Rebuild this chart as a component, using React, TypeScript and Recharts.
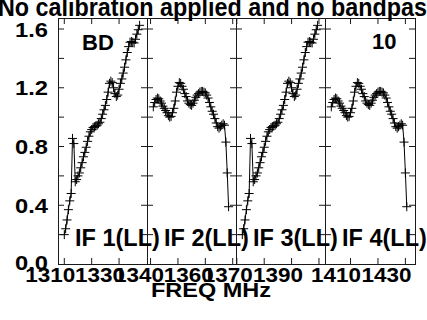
import React from 'react';
import { LineChart, Line, XAxis, YAxis } from 'recharts';

// ---------- data ----------
const titleText = 'No calibration applied and no bandpass';
const xAxisTitle = 'FREQ MHz';
const sourceName = 'BD';
const plotNumber = '10';
const ifLabels = ['IF 1(LL)', 'IF 2(LL)', 'IF 3(LL)', 'IF 4(LL)'];

const ifStartFreqs = [1310, 1341, 1372, 1403];
const channelWidthMHz = 0.5;

const xDomains: [number, number][] = [
  [1307.7, 1340.2],
  [1338.7, 1371.2],
  [1369.7, 1402.2],
  [1400.7, 1433.5],
];
const xTicks = [
  [1310, 1320, 1330],
  [1340, 1350, 1360, 1370],
  [1370, 1380, 1390, 1400],
  [1410, 1420, 1430],
];
const xTickLabels = [
  [1310, 1330],
  [1340, 1360],
  [1370, 1390],
  [1410, 1430],
];
const yTicks = [0, 0.2, 0.4, 0.6, 0.8, 1.0, 1.2, 1.4, 1.6];
const yTickLabels = [0, 0.4, 0.8, 1.2, 1.6];
const yDomain: [number, number] = [0, 1.675];

const if1Values = [
  0.2, 0.24, 0.3, 0.37, 0.43, 0.48, 0.855, 0.82, 0.56, 0.575,
  0.6, 0.62, 0.655, 0.69, 0.73, 0.76, 0.795, 0.835, 0.87, 0.9,
  0.915, 0.93, 0.935, 0.94, 0.945, 0.955, 0.965, 0.99, 1.02, 1.05,
  1.08, 1.12, 1.17, 1.23, 1.245, 1.235, 1.2, 1.16, 1.14, 1.15,
  1.19, 1.23, 1.26, 1.3, 1.34, 1.39, 1.44, 1.48, 1.51, 1.515,
  1.51, 1.505, 1.53, 1.565, 1.595, 1.625,
];
const if2Values = [
  1.07, 1.1, 1.12, 1.13, 1.125, 1.11, 1.095, 1.075, 1.06, 1.045,
  1.03, 1.01, 1.0, 1.005, 1.03, 1.06, 1.11, 1.17, 1.21, 1.235,
  1.23, 1.21, 1.19, 1.16, 1.14, 1.11, 1.095, 1.085, 1.08, 1.095,
  1.115, 1.135, 1.15, 1.16, 1.17, 1.175, 1.175, 1.17, 1.165, 1.15,
  1.13, 1.1, 1.07, 1.04, 1.02, 0.99, 0.96, 0.935, 0.925, 0.935,
  0.945, 0.955, 0.945, 0.83, 0.62, 0.39,
];
const if3Values = [
  0.2, 0.24, 0.3, 0.37, 0.43, 0.48, 0.855, 0.82, 0.56, 0.575,
  0.6, 0.62, 0.655, 0.69, 0.73, 0.76, 0.795, 0.835, 0.87, 0.9,
  0.915, 0.93, 0.935, 0.94, 0.945, 0.955, 0.965, 0.99, 1.02, 1.05,
  1.08, 1.12, 1.17, 1.23, 1.245, 1.235, 1.2, 1.16, 1.14, 1.15,
  1.19, 1.23, 1.26, 1.3, 1.34, 1.39, 1.44, 1.48, 1.51, 1.515,
  1.51, 1.505, 1.53, 1.565, 1.595, 1.625,
];
const if4Values = [
  1.07, 1.1, 1.12, 1.13, 1.125, 1.11, 1.095, 1.075, 1.06, 1.045,
  1.03, 1.01, 1.0, 1.005, 1.03, 1.06, 1.11, 1.17, 1.21, 1.235,
  1.23, 1.21, 1.19, 1.16, 1.14, 1.11, 1.095, 1.085, 1.08, 1.095,
  1.115, 1.135, 1.15, 1.16, 1.17, 1.175, 1.175, 1.17, 1.165, 1.15,
  1.13, 1.1, 1.07, 1.04, 1.02, 0.99, 0.96, 0.935, 0.925, 0.935,
  0.945, 0.955, 0.945, 0.83, 0.62, 0.39,
];
const ifSeries = [if1Values, if2Values, if3Values, if4Values];

// ---------- layout ----------
const W = 427;
const H = 320;
const PLOT_TOP = 18;
const PLOT_BOTTOM = 264;
const AXIS_SIZE = 20;
const panelLefts = [58, 147, 236, 325];
const panelRights = [147, 236, 325, 415];
const FRAME = '#1a1a1a';
const FONT = '"Liberation Sans", Arial, Helvetica, sans-serif';
const TICK_LEN = 6;
// horizontal shift of each labelled tick's text relative to its tick (as drawn in the original)
const xLabelShifts = [
  [-14, -19],
  [-11.5, -16.5],
  [-9, -13.5],
  [-14.5, -19],
];
const X_LABEL_WIDTH = 50;
const Y_LABEL_RIGHT = 48;
const Y_LABEL_WIDTH = 33;

const buildData = (i: number) =>
  ifSeries[i].map((v, k) => ({ freq: ifStartFreqs[i] + k * channelWidthMHz, value: v }));

const Cross = (props: any) => {
  const { cx, cy, index } = props;
  if (cx == null || cy == null) return <g key={index} />;
  const s = 4.5;
  return (
    <path
      key={index}
      d={`M${cx - s},${cy}H${cx + s}M${cx},${cy - s}V${cy + s}`}
      stroke="#000"
      strokeWidth={1}
      fill="none"
    />
  );
};

const makeXTick = (panel: number) => (props: any) => {
  const { x, payload } = props;
  const v = payload.value;
  const cx = payload.coordinate != null ? payload.coordinate : x;
  const li = xTickLabels[panel].indexOf(v);
  return (
    <g>
      <line x1={cx} x2={cx} y1={PLOT_BOTTOM} y2={PLOT_BOTTOM - TICK_LEN} stroke={FRAME} strokeWidth={1} />
      <line x1={cx} x2={cx} y1={PLOT_TOP} y2={PLOT_TOP + TICK_LEN} stroke={FRAME} strokeWidth={1} />
      {li >= 0 && (
        <text
          x={cx + xLabelShifts[panel][li] - X_LABEL_WIDTH / 2}
          y={282}
          textLength={X_LABEL_WIDTH}
          lengthAdjust="spacingAndGlyphs"
          fontFamily={FONT}
          fontWeight="bold"
          fontSize={21}
          fill="#000"
        >
          {v}
        </text>
      )}
    </g>
  );
};

const makeYTick = (panel: number) => (props: any) => {
  const { y, payload } = props;
  const v = payload.value;
  const cy = payload.coordinate != null ? payload.coordinate : y;
  const left = panelLefts[panel];
  const right = panelRights[panel];
  const labeled = panel === 0 && yTickLabels.includes(v);
  return (
    <g>
      {v > 0 && (
        <>
          <line x1={left} x2={left + TICK_LEN} y1={cy} y2={cy} stroke={FRAME} strokeWidth={1} />
          <line x1={right - TICK_LEN} x2={right} y1={cy} y2={cy} stroke={FRAME} strokeWidth={1} />
        </>
      )}
      {labeled && (
        <text
          x={Y_LABEL_RIGHT - Y_LABEL_WIDTH}
          y={v === 0 ? cy - 2 : cy}
          dy="0.36em"
          textLength={Y_LABEL_WIDTH}
          lengthAdjust="spacingAndGlyphs"
          fontFamily={FONT}
          fontWeight="bold"
          fontSize={21}
          fill="#000"
        >
          {v.toFixed(1)}
        </text>
      )}
    </g>
  );
};

const Panel = ({ i }: { i: number }) => (
  <div style={{ position: 'absolute', left: 0, top: 0, width: W, height: H }}>
    <LineChart
      width={W}
      height={H}
      data={buildData(i)}
      margin={{
        top: PLOT_TOP,
        bottom: H - PLOT_BOTTOM - AXIS_SIZE,
        left: panelLefts[i] - AXIS_SIZE,
        right: W - panelRights[i],
      }}
    >
      <XAxis
        dataKey="freq"
        type="number"
        domain={xDomains[i]}
        ticks={xTicks[i]}
        interval={0}
        allowDataOverflow
        height={AXIS_SIZE}
        axisLine={false}
        tickLine={false}
        tick={makeXTick(i)}
      />
      <YAxis
        type="number"
        domain={yDomain}
        ticks={yTicks}
        interval={0}
        allowDataOverflow
        width={AXIS_SIZE}
        axisLine={false}
        tickLine={false}
        tick={makeYTick(i)}
      />
      <Line
        type="linear"
        dataKey="value"
        stroke="#000"
        strokeWidth={1}
        dot={Cross}
        activeDot={false}
        isAnimationActive={false}
      />
    </LineChart>
  </div>
);

export default function App() {
  return (
    <div
      style={{
        position: 'absolute',
        left: 0,
        top: 0,
        width: W,
        height: H,
        overflow: 'hidden',
        background: '#fff',
      }}
    >
      {[0, 1, 2, 3].map((i) => (
        <Panel key={i} i={i} />
      ))}
      <svg
        width={W}
        height={H}
        style={{ position: 'absolute', left: 0, top: 0, pointerEvents: 'none' }}
      >
        {panelLefts.map((l, i) => (
          <rect
            key={i}
            x={l + 0.5}
            y={PLOT_TOP + 0.5}
            width={panelRights[i] - l}
            height={PLOT_BOTTOM - PLOT_TOP}
            fill="none"
            stroke={FRAME}
            strokeWidth={1}
          />
        ))}
        <text
          x={-2}
          y={16}
          textLength={442}
          lengthAdjust="spacingAndGlyphs"
          fontFamily={FONT}
          fontWeight="bold"
          fontSize={25}
          fill="#000"
        >
          {titleText}
        </text>
        <text
          x={151}
          y={297}
          textLength={120}
          lengthAdjust="spacingAndGlyphs"
          fontFamily={FONT}
          fontWeight="bold"
          fontSize={21}
          fill="#000"
        >
          {xAxisTitle}
        </text>
        <text x={82} y={50} fontFamily={FONT} fontWeight="bold" fontSize={22} fill="#000">
          {sourceName}
        </text>
        <text x={372} y={49} fontFamily={FONT} fontWeight="bold" fontSize={22} fill="#000">
          {plotNumber}
        </text>
        {ifLabels.map((t, i) => (
          <text
            key={t}
            x={panelLefts[i] + 17}
            y={246}
            fontFamily={FONT}
            fontWeight="bold"
            fontSize={23.5}
            fill="#000"
          >
            {t}
          </text>
        ))}
      </svg>
    </div>
  );
}
